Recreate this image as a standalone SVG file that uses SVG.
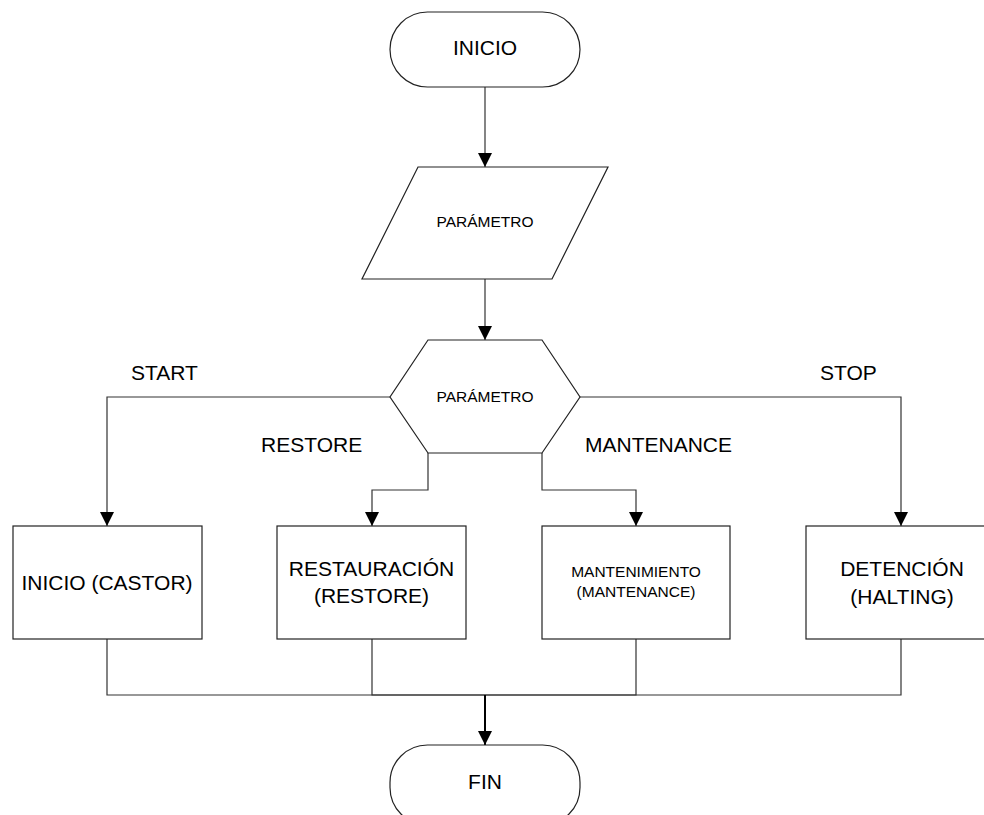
<svg xmlns="http://www.w3.org/2000/svg" width="984" height="815" viewBox="0 0 984 815">
<style>
.s{fill:#fff;stroke:#222;stroke-width:1.2}
.c{fill:none;stroke:#333;stroke-width:1.2}
text{font-family:"Liberation Sans",Arial,sans-serif;fill:#000;text-anchor:middle}
.b{font-size:21px}
.m{font-size:15.5px}
.l{font-size:21px;text-anchor:start}
</style>
<defs>
<marker id="a" viewBox="0 0 14 14" refX="14" refY="7" markerWidth="14" markerHeight="14" markerUnits="userSpaceOnUse" orient="auto">
<path d="M0,0 L14,7 L0,14 Z" fill="#000"/>
</marker>
</defs>
<rect width="984" height="815" fill="#fff"/>
<g id="connectors">
<path class="c" d="M485,87 V167" marker-end="url(#a)"/>
<path class="c" d="M485,279 V340" marker-end="url(#a)"/>
<path class="c" d="M390,397 H107 V526" marker-end="url(#a)"/>
<path class="c" d="M428,453 V490 H372 V526" marker-end="url(#a)"/>
<path class="c" d="M542,453 V490 H636 V526" marker-end="url(#a)"/>
<path class="c" d="M580,397 H901 V526" marker-end="url(#a)"/>
<path class="c" d="M107,639 V695 H901 V639"/>
<path class="c" d="M372,639 V695 H636 V639"/>
<path d="M485,695 V745" fill="none" stroke="#000" stroke-width="2" marker-end="url(#a)"/>
<text class="l" x="131" y="380">START</text>
<text class="l" x="261" y="452">RESTORE</text>
<text class="l" x="585" y="452">MANTENANCE</text>
<text class="l" x="820" y="380">STOP</text>
</g>
<g id="inicio">
<rect class="s" x="390" y="12" width="190" height="75" rx="37.5"/>
<text class="b" x="485" y="55">INICIO</text>
</g>
<g id="parametro-in">
<polygon class="s" points="418,167 608,167 552,279 362,279"/>
<text class="m" x="485" y="227">PARÁMETRO</text>
</g>
<g id="parametro-dec">
<polygon class="s" points="428,340 542,340 580,397 542,453 428,453 390,397"/>
<text class="m" x="485" y="402">PARÁMETRO</text>
</g>
<g id="inicio-castor">
<rect class="s" x="13" y="526" width="189" height="113"/>
<text class="b" x="107" y="590">INICIO (CASTOR)</text>
</g>
<g id="restauracion">
<rect class="s" x="277" y="526" width="189" height="113"/>
<text class="b" x="371.5" y="576">RESTAURACIÓN</text>
<text class="b" x="371.5" y="603">(RESTORE)</text>
</g>
<g id="mantenimiento">
<rect class="s" x="542" y="526" width="188" height="113"/>
<text class="m" x="636" y="577">MANTENIMIENTO</text>
<text class="m" x="636" y="597">(MANTENANCE)</text>
</g>
<g id="detencion">
<rect class="s" x="806" y="526" width="189" height="113"/>
<text class="b" x="902" y="576">DETENCIÓN</text>
<text class="b" x="902" y="604">(HALTING)</text>
</g>
<g id="fin">
<rect class="s" x="390" y="745" width="190" height="80" rx="37.5"/>
<text class="b" x="485" y="789">FIN</text>
</g>
</svg>
